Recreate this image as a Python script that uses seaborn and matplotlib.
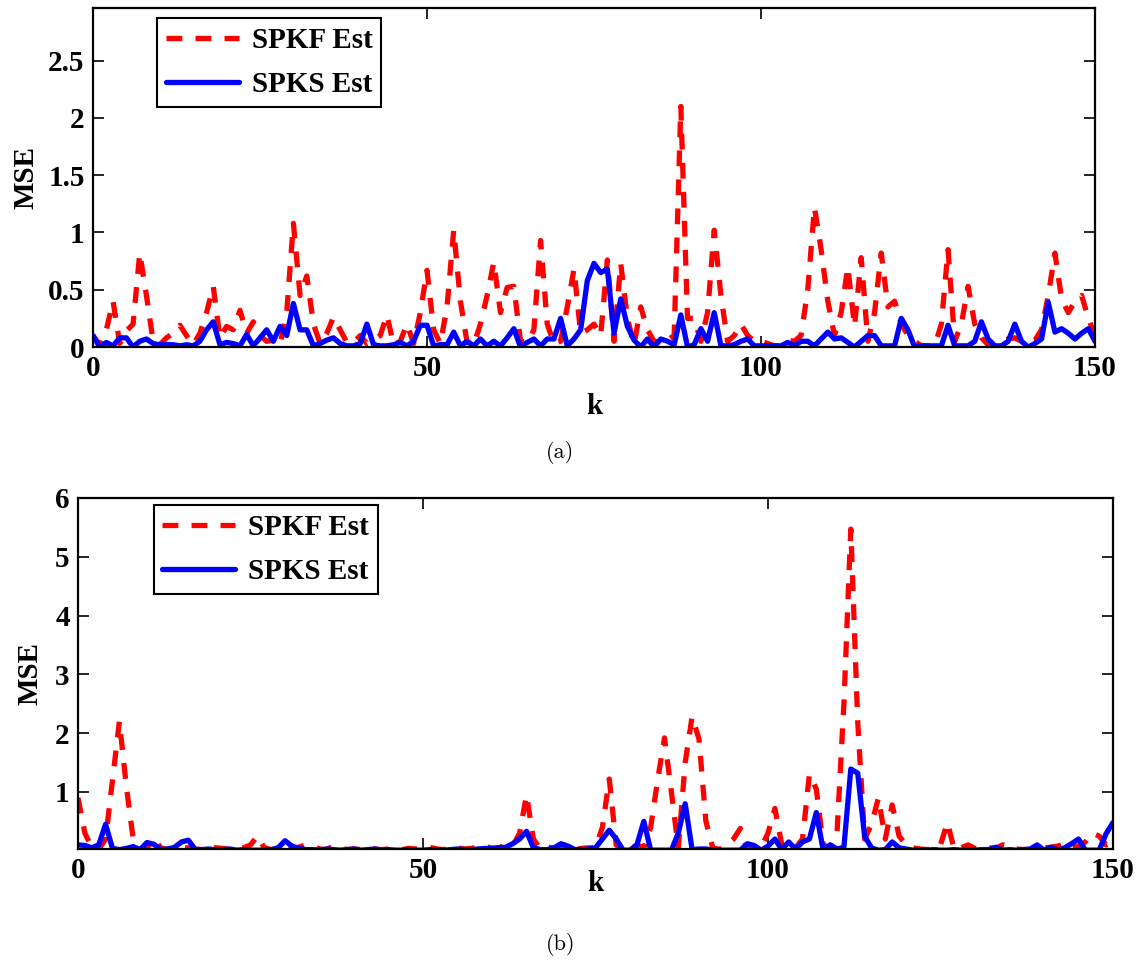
import numpy as np
import pandas as pd
import seaborn as sns
import matplotlib
matplotlib.use("Agg")
import matplotlib.pyplot as plt
from matplotlib.ticker import FuncFormatter

# ---------------- data ----------------
k = list(range(151))

spkf_a = [0.10, 0.02, 0.15, 0.40, 0.03, 0.14, 0.20, 0.82, 0.45, 0.05,
          0.02, 0.08, 0.12, 0.19, 0.10, 0.02, 0.12, 0.30, 0.53, 0.08,
          0.18, 0.15, 0.32, 0.12, 0.22, 0.10, 0.05, 0.06, 0.02, 0.30,
          1.08, 0.45, 0.62, 0.20, 0.03, 0.12, 0.26, 0.15, 0.04, 0.04,
          0.10, 0.03, 0.06, 0.10, 0.28, 0.02, 0.05, 0.20, 0.03, 0.30,
          0.67, 0.15, 0.03, 0.35, 1.02, 0.40, 0.04, 0.02, 0.20, 0.45,
          0.74, 0.30, 0.52, 0.53, 0.05, 0.04, 0.15, 0.93, 0.20, 0.03,
          0.05, 0.35, 0.68, 0.12, 0.15, 0.20, 0.10, 0.76, 0.05, 0.73,
          0.25, 0.02, 0.35, 0.15, 0.05, 0.04, 0.06, 0.10, 2.10, 0.25,
          0.25, 0.05, 0.30, 1.02, 0.45, 0.05, 0.10, 0.20, 0.10, 0.05,
          0.05, 0.03, 0.01, 0.01, 0.06, 0.05, 0.10, 0.50, 1.22, 0.85,
          0.40, 0.10, 0.30, 0.70, 0.18, 0.78, 0.05, 0.30, 0.82, 0.35,
          0.40, 0.20, 0.10, 0.05, 0.01, 0.01, 0.01, 0.20, 0.85, 0.05,
          0.20, 0.53, 0.20, 0.08, 0.02, 0.03, 0.05, 0.07, 0.08, 0.05,
          0.04, 0.06, 0.15, 0.45, 0.82, 0.42, 0.30, 0.40, 0.45, 0.25, 0.10]

spks_a = [0.10, 0.00, 0.04, 0.01, 0.08, 0.08, 0.00, 0.05, 0.07, 0.03,
          0.02, 0.02, 0.02, 0.01, 0.02, 0.01, 0.05, 0.15, 0.22, 0.02,
          0.04, 0.03, 0.01, 0.11, 0.01, 0.08, 0.15, 0.05, 0.18, 0.10,
          0.38, 0.15, 0.15, 0.01, 0.03, 0.06, 0.08, 0.03, 0.01, 0.01,
          0.03, 0.20, 0.02, 0.01, 0.01, 0.02, 0.04, 0.01, 0.05, 0.19,
          0.19, 0.01, 0.02, 0.02, 0.13, 0.01, 0.05, 0.01, 0.07, 0.01,
          0.05, 0.01, 0.08, 0.16, 0.00, 0.04, 0.07, 0.01, 0.07, 0.07,
          0.25, 0.01, 0.07, 0.15, 0.58, 0.73, 0.65, 0.68, 0.12, 0.42,
          0.18, 0.06, 0.00, 0.07, 0.00, 0.07, 0.05, 0.02, 0.28, 0.00,
          0.02, 0.16, 0.05, 0.30, 0.01, 0.01, 0.02, 0.05, 0.07, 0.01,
          0.01, 0.01, 0.01, 0.01, 0.04, 0.01, 0.05, 0.05, 0.01, 0.07,
          0.13, 0.07, 0.08, 0.04, 0.00, 0.05, 0.10, 0.10, 0.01, 0.01,
          0.01, 0.25, 0.15, 0.00, 0.01, 0.01, 0.01, 0.01, 0.19, 0.01,
          0.01, 0.01, 0.05, 0.22, 0.07, 0.01, 0.01, 0.05, 0.20, 0.05,
          0.00, 0.03, 0.07, 0.39, 0.13, 0.16, 0.12, 0.07, 0.12, 0.16, 0.05]

spkf_b = [0.90, 0.30, 0.05, 0.02, 0.20, 1.20, 2.20, 1.10, 0.20, 0.02,
          0.05, 0.22, 0.05, 0.02, 0.03, 0.05, 0.05, 0.03, 0.02, 0.05,
          0.05, 0.04, 0.02, 0.02, 0.05, 0.10, 0.25, 0.05, 0.02, 0.02,
          0.02, 0.04, 0.06, 0.10, 0.08, 0.03, 0.02, 0.08, 0.05, 0.02,
          0.03, 0.02, 0.04, 0.03, 0.02, 0.03, 0.05, 0.02, 0.04, 0.03,
          0.05, 0.06, 0.03, 0.02, 0.04, 0.05, 0.03, 0.04, 0.06, 0.08,
          0.04, 0.05, 0.10, 0.08, 0.30, 0.95, 0.20, 0.03, 0.06, 0.05,
          0.06, 0.03, 0.02, 0.04, 0.05, 0.05, 0.40, 1.22, 0.10, 0.02,
          0.03, 0.10, 0.05, 0.40, 1.20, 1.92, 1.00, 0.05, 1.50, 2.28,
          1.90, 0.50, 0.05, 0.02, 0.10, 0.20, 0.38, 0.02, 0.03, 0.05,
          0.30, 0.72, 0.10, 0.02, 0.05, 0.20, 1.30, 1.05, 0.10, 0.05,
          0.30, 2.50, 5.47, 2.20, 0.20, 0.45, 0.90, 0.20, 0.78, 0.25,
          0.10, 0.05, 0.03, 0.02, 0.04, 0.10, 0.48, 0.02, 0.05, 0.10,
          0.04, 0.03, 0.05, 0.04, 0.10, 0.08, 0.03, 0.02, 0.02, 0.04,
          0.05, 0.06, 0.08, 0.12, 0.05, 0.08, 0.15, 0.30, 0.25, 0.10, 0.15]

spks_b = [0.10, 0.09, 0.05, 0.10, 0.45, 0.04, 0.02, 0.04, 0.07, 0.02,
          0.14, 0.11, 0.02, 0.03, 0.06, 0.15, 0.18, 0.02, 0.02, 0.03,
          0.01, 0.02, 0.03, 0.01, 0.02, 0.01, 0.01, 0.01, 0.02, 0.05,
          0.17, 0.08, 0.04, 0.02, 0.02, 0.01, 0.03, 0.02, 0.01, 0.02,
          0.03, 0.01, 0.02, 0.03, 0.01, 0.02, 0.01, 0.01, 0.02, 0.01,
          0.01, 0.02, 0.01, 0.01, 0.02, 0.03, 0.02, 0.02, 0.03, 0.04,
          0.04, 0.05, 0.06, 0.12, 0.20, 0.33, 0.05, 0.02, 0.02, 0.05,
          0.12, 0.08, 0.02, 0.02, 0.03, 0.05, 0.20, 0.35, 0.20, 0.01,
          0.01, 0.10, 0.50, 0.01, 0.01, 0.01, 0.01, 0.30, 0.80, 0.02,
          0.03, 0.03, 0.01, 0.01, 0.01, 0.01, 0.01, 0.12, 0.09, 0.01,
          0.08, 0.20, 0.02, 0.15, 0.03, 0.15, 0.20, 0.65, 0.01, 0.10,
          0.03, 0.06, 1.39, 1.32, 0.25, 0.05, 0.01, 0.02, 0.15, 0.05,
          0.03, 0.01, 0.02, 0.01, 0.02, 0.01, 0.01, 0.02, 0.01, 0.01,
          0.01, 0.02, 0.02, 0.06, 0.01, 0.02, 0.01, 0.02, 0.03, 0.10,
          0.01, 0.06, 0.01, 0.05, 0.12, 0.20, 0.01, 0.01, 0.01, 0.29, 0.48]

labels = ["SPKF Est", "SPKS Est"]
xticks = [0, 50, 100, 150]
yticks_a = [0, 0.5, 1, 1.5, 2, 2.5]
yticks_b = [1, 2, 3, 4, 5, 6]
captions = ["(a)", "(b)"]

# ---------------- style ----------------
sns.set_style("ticks")
plt.rcParams["font.family"] = ["Liberation Serif", "DejaVu Serif"]
plt.rcParams["font.weight"] = "bold"
plt.rcParams["axes.labelweight"] = "bold"
for key in ["text.color", "axes.labelcolor", "xtick.color", "ytick.color",
            "axes.edgecolor"]:
    plt.rcParams[key] = "black"
FS = 21

fig = plt.figure(figsize=(11.41, 9.69), dpi=100)
ax_a = fig.add_axes([93 / 1141, 1 - 347 / 969, (1095 - 93) / 1141, (347 - 8) / 969])
ax_b = fig.add_axes([78 / 1141, 1 - 849 / 969, (1113 - 78) / 1141, (849 - 498) / 969])

fmt = FuncFormatter(lambda v, p: "%g" % v)


def draw(ax, red, blue, yticks, ylim, legend_anchor, caption, cap_y, xpad, ypad):
    df = pd.DataFrame({"k": k, "SPKF": red, "SPKS": blue})
    sns.lineplot(data=df, x="k", y="SPKF", ax=ax, color=(1, 0, 0), lw=3.8,
                 linestyle=(0, (3.0, 2.5)), label=labels[0])
    sns.lineplot(data=df, x="k", y="SPKS", ax=ax, color=(0, 0, 1), lw=3.8,
                 label=labels[1])
    ax.set_xlim(0, 150)
    ax.set_ylim(*ylim)
    ax.set_xticks(xticks)
    ax.set_yticks(yticks)
    ax.xaxis.set_major_formatter(fmt)
    ax.yaxis.set_major_formatter(fmt)
    ax.tick_params(direction="in", length=8, width=1.2, top=True, right=True,
                   labelsize=FS, pad=6, colors="black")
    for lab in ax.get_xticklabels() + ax.get_yticklabels():
        lab.set_fontweight("bold")
    for s in ax.spines.values():
        s.set_visible(True)
        s.set_linewidth(1.6)
        s.set_color("black")
    ax.set_xlabel("k", fontsize=FS, fontweight="bold", labelpad=xpad)
    ax.set_ylabel("MSE", fontsize=FS, fontweight="bold", labelpad=ypad)
    leg = ax.legend(loc="upper left", bbox_to_anchor=legend_anchor,
                    borderaxespad=0, fancybox=False, frameon=True,
                    edgecolor="black", handlelength=2.5,
                    handletextpad=0.45, labelspacing=0.6, borderpad=0.3,
                    prop={"size": FS, "weight": "bold"})
    leg.get_frame().set_linewidth(1.5)
    leg.get_frame().set_alpha(1)
    for t in leg.get_texts():
        t.set_color("black")
    fig.text(0.491, cap_y, caption, ha="center", va="center",
             fontsize=16, family=["cmr10", "DejaVu Serif"], fontweight="normal")


draw(ax_a, spkf_a, spks_a, yticks_a, (0, 2.96), (0.064, 0.97), captions[0],
     1 - 452 / 969, 8, 6)
draw(ax_b, spkf_b, spks_b, yticks_b, (0.03, 6), (0.073, 0.98), captions[1],
     1 - 945 / 969, -10, 8)

fig.savefig("out.png", dpi=100, facecolor="white")
